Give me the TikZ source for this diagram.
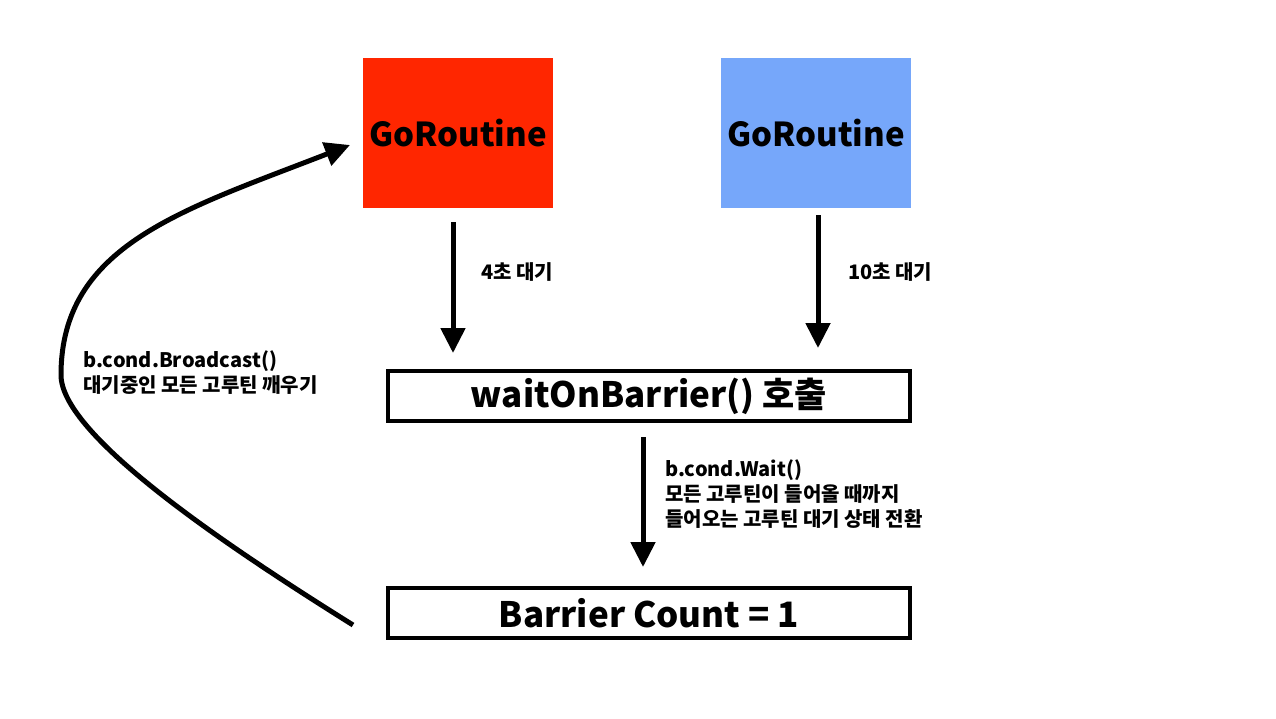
\documentclass[tikz,border=0pt]{standalone}
\usepackage{fontspec}
\setmainfont{Noto Sans CJK KR}
\usetikzlibrary{arrows.meta}
\definecolor{gored}{RGB}{255,38,0}
\definecolor{goblue}{RGB}{118,167,250}
\begin{document}
\begin{tikzpicture}[x=1pt,y=-1pt,
  gobox/.style={minimum width=190pt,minimum height=150pt,inner sep=0pt,font=\fontsize{33}{38}\selectfont\bfseries},
  stepbox/.style={draw=black,line width=4pt,minimum width=522pt,minimum height=50pt,inner sep=0pt,font=\fontsize{35}{38}\selectfont\bfseries},
  lbl/.style={font=\fontsize{20}{25}\selectfont\bfseries,inner sep=0pt,align=left},
  arr/.style={line width=5pt,-{Triangle[width=24pt,length=25pt]}}]
\useasboundingbox[fill=white] (0,0) rectangle (1276,718);
\node[gobox,fill=gored] (r) at (458,133) {GoRoutine};
\node[gobox,fill=goblue] (b) at (816,133) {GoRoutine};
\node[stepbox] (w) at (649,396) {waitOnBarrier() 호출};
\node[stepbox] (c) at (649,613) {Barrier Count = 1};
\coordinate (a1s) at (453,222);
\coordinate (a1e) at (453,353);
\coordinate (a2s) at (818,215);
\coordinate (a2e) at (818,348);
\coordinate (a3s) at (643,437);
\coordinate (a3e) at (643,567);
\coordinate (cs) at (353,625);
\coordinate (cm) at (61,375);
\coordinate (ce) at (350,145);
\draw[arr] (a1s) -- (a1e);
\draw[arr] (a2s) -- (a2e);
\draw[arr] (a3s) -- (a3e);
\draw[arr] (cs) .. controls (225,545) and (61,435) .. (cm)
  .. controls (61,245) and (183,210) .. (ce);
\node[lbl,anchor=west] (l1) at (481,272) {4초 대기};
\node[lbl,anchor=west] (l2) at (848,272) {10초 대기};
\node[lbl,anchor=west] (l3) at (665,494) {b.cond.Wait()\\모든 고루틴이 들어올 때까지\\들어오는 고루틴 대기 상태 전환};
\node[lbl,anchor=west] (l4) at (83,373) {b.cond.Broadcast()\\대기중인 모든 고루틴 깨우기};
\end{tikzpicture}
\end{document}
